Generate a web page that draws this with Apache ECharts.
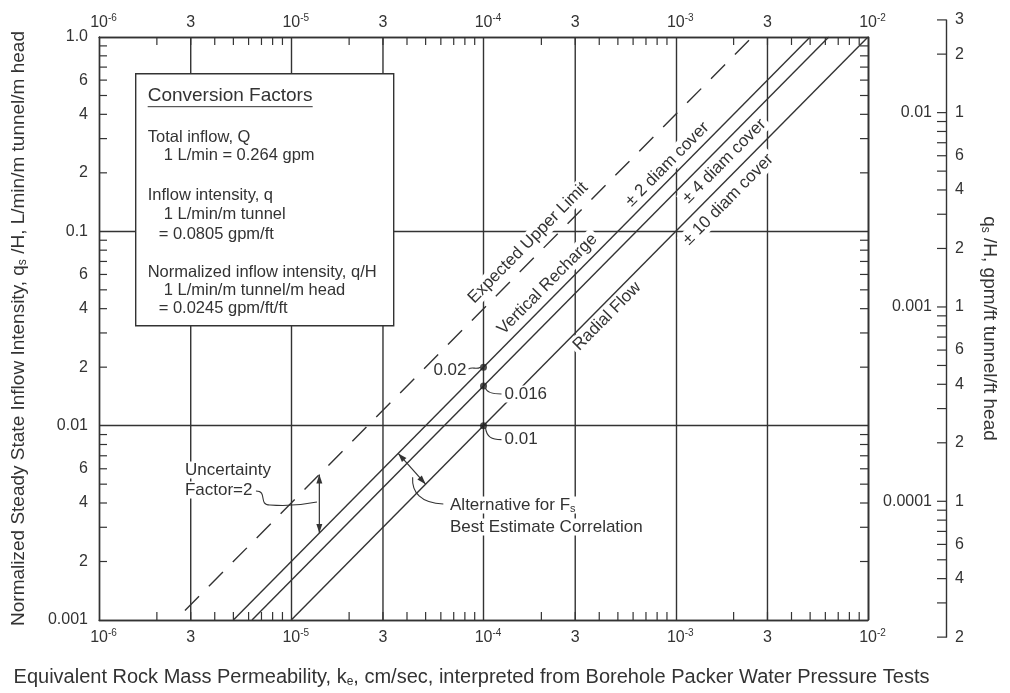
<!DOCTYPE html>
<html>
<head>
<meta charset="utf-8">
<script src="https://cdn.jsdelivr.net/npm/echarts@6/dist/echarts.min.js"></script>
<style>
  html, body { margin: 0; padding: 0; background: #fff; }
  #chart { width: 1010px; height: 693px; }
</style>
</head>
<body>
<div id="chart"></div>
<script>
// ---- Axis extents: permeability k (cm/s) and normalized inflow q/H (L/min/m tunnel/m head)
const kMin = 1e-6, kMax = 1e-2;
const qMin = 0.001, qMax = 1;

// ---- Correlation lines, end points [k, q/H]
const upperLimit       = [[2.8e-6, 0.00112], [2.5e-3, 1]];
const verticalRecharge = [[5e-6, 0.001], [5e-3, 1]];
const bestEstimate     = [[6.25e-6, 0.001], [6.25e-3, 1]];
const radialFlow       = [[1e-5, 0.001], [1e-2, 1]];

// ---- Reference points read at k = 1e-4
const markedK = [1e-4, 1e-4, 1e-4];
const markedQ = [0.02, 0.016, 0.01];
const markedText = ['0.02', '0.016', '0.01'];

// ---- Double arrows [k, q/H]
const uncertaintyArrow = [[1.4e-5, 0.0056], [1.4e-5, 0.0028]];
const alternativeArrow = [[3.6e-5, 0.0072], [5.0e-5, 0.005]];

// ---- Line captions: text, k of the anchor point, q/H per unit k of the line
const lineLabelText  = ['Expected Upper Limit', 'Vertical Recharge', '\u00b1 2 diam cover', 'Radial Flow', '\u00b1 4 diam cover', '\u00b1 10 diam cover'];
const lineLabelK     = [1.93e-4, 2.4e-4, 1.0e-3, 4.0e-4, 1.6e-3, 1.65e-3];
const lineLabelRatio = [400, 200, 200, 100, 160, 100];

// ---- Tick labels
const xThirds = [3e-6, 3e-5, 3e-4, 3e-3];
const xThirdLabels = ['3', '3', '3', '3'];
const yMinorLabelValues = [0.6, 0.4, 0.2, 0.06, 0.04, 0.02, 0.006, 0.004, 0.002];
const yMinorLabels = ['6', '4', '2', '6', '4', '2', '6', '4', '2'];
const minorMantissas = [2, 3, 4, 5, 6, 7, 8, 9];

// ---- Secondary axis, gpm/ft tunnel/ft head
const gpmFactor = 0.0245;
const rightMin = 2e-5, rightMax = 0.03;
const rightLabelValues = [0.03, 0.02, 0.01, 0.006, 0.004, 0.002, 0.001, 0.0006, 0.0004, 0.0002, 0.0001, 0.00006, 0.00004, 0.00002];
const rightLabels = ['3', '2', '1', '6', '4', '2', '1', '6', '4', '2', '1', '6', '4', '2'];

// ---- Conversion factor notes
const noteTitle = 'Conversion Factors';
const noteLines = [
  ['Total inflow, Q', 0], ['1 L/min = 0.264 gpm', 1],
  ['Inflow intensity, q', 0], ['1 L/min/m tunnel', 1], ['= 0.0805 gpm/ft', 2],
  ['Normalized inflow intensity, q/H', 0], ['1 L/min/m tunnel/m head', 1], ['= 0.0245 gpm/ft/ft', 2]
];

// ---------------------------------------------------------------------------
const chart = echarts.init(document.getElementById('chart'), null, { renderer: 'canvas' });
const INK = '#333';
const FONT = '"Liberation Sans", Arial, Helvetica, sans-serif';
const GRID = { left: 99, top: 37, width: 769, height: 583 };
const LW = 1.4;

// the gpm axis shares the decade length of the main axis
const decadePx = GRID.height / Math.log10(qMax / qMin);
const rightTop = GRID.top - Math.log10(rightMax / gpmFactor / qMax) * decadePx;
const rightBottom = GRID.top + GRID.height + Math.log10(qMin * gpmFactor / rightMin) * decadePx;

const xMinor = [], yMinor = [];
[1e-6, 1e-5, 1e-4, 1e-3].forEach(d => minorMantissas.forEach(m => xMinor.push(m * d)));
[0.001, 0.01, 0.1].forEach(d => minorMantissas.forEach(m => yMinor.push(m * d)));

// tick direction: 0 bottom, 1 top, 2 left, 3 right
const tickData = [];
xMinor.forEach(k => tickData.push([k, qMin, 0], [k, qMax, 1]));
yMinor.forEach(q => tickData.push([kMin, q, 2], [kMax, q, 3]));

const rightTicks = [];
[-2, -3, -4, -5].forEach(e => [1, 2, 3, 4, 5, 6, 7, 8, 9].forEach(m => {
  const v = m * Math.pow(10, e);
  if (v >= rightMin * 0.999 && v <= rightMax * 1.001) rightTicks.push(v);
}));

// minor tick labels: 0 below, 1 above, 2 left
const minorLabelData = [], minorLabelText = [];
xThirds.forEach((k, i) => {
  minorLabelData.push([k, qMin, 0]); minorLabelText.push(xThirdLabels[i]);
  minorLabelData.push([k, qMax, 1]); minorLabelText.push(xThirdLabels[i]);
});
yMinorLabelValues.forEach((q, i) => { minorLabelData.push([kMin, q, 2]); minorLabelText.push(yMinorLabels[i]); });

const lineStyle = { color: INK, width: LW };
const tickFont = { fontSize: 16, fontFamily: FONT, color: INK };
const powRich = {
  b: { fontSize: 16, fontFamily: FONT, color: INK, padding: [0, 0, 0, 9], lineHeight: 20 },
  s: { fontSize: 10, fontFamily: FONT, color: INK, verticalAlign: 'top', lineHeight: 10 }
};
const powLabel = v => '{b|10}{s|' + Math.round(Math.log10(v)) + '}';
const subRich = { s: { fontSize: 12, fontFamily: FONT, color: INK, padding: [9, 0, 0, 0], lineHeight: 12 } };

function textEl(x, y, text, align, extra) {
  return Object.assign({
    type: 'text', x: x, y: y,
    style: { text: text, font: '17px ' + FONT, fill: INK, align: align || 'left', verticalAlign: 'middle' }
  }, extra || {});
}

function arrowHead(tip, from) {
  const dx = tip[0] - from[0], dy = tip[1] - from[1];
  const len = Math.hypot(dx, dy), ux = dx / len, uy = dy / len;
  const L = 9, W = 3;
  const bx = tip[0] - ux * L, by = tip[1] - uy * L;
  return {
    type: 'polygon',
    shape: { points: [tip, [bx - uy * W, by + ux * W], [bx + uy * W, by - ux * W]] },
    style: { fill: INK }
  };
}

function bez(o, a, c1, c2, b) {
  return 'M' + (o[0] + a[0]) + ' ' + (o[1] + a[1]) +
    ' C' + (o[0] + c1[0]) + ' ' + (o[1] + c1[1]) + ' ' + (o[0] + c2[0]) + ' ' + (o[1] + c2[1]) +
    ' ' + (o[0] + b[0]) + ' ' + (o[1] + b[1]);
}
const leaderStyle = { stroke: INK, lineWidth: 1.1, fill: null };

const option = {
  backgroundColor: '#fff',
  animation: false,
  grid: [
    Object.assign({ outerBoundsMode: 'none', containLabel: false }, GRID),
    { left: 946, top: rightTop, width: 10, height: rightBottom - rightTop, outerBoundsMode: 'none', containLabel: false }
  ],
  xAxis: [
    {
      type: 'log', gridIndex: 0, min: kMin, max: kMax, position: 'bottom',
      axisLine: { show: true, lineStyle: lineStyle }, axisTick: { show: false },
      splitLine: { show: true, lineStyle: lineStyle },
      axisLabel: { interval: 0, margin: 8, formatter: powLabel, rich: powRich },
      name: 'Equivalent Rock Mass Permeability, k{s|e}, cm/sec, interpreted from Borehole Packer Water Pressure Tests',
      nameLocation: 'middle', nameGap: 47,
      nameTextStyle: { fontSize: 20, fontFamily: FONT, color: INK, padding: [0, 24, 0, 0], rich: subRich }
    },
    {
      type: 'log', gridIndex: 0, min: kMin, max: kMax, position: 'top',
      axisLine: { show: true, lineStyle: lineStyle }, axisTick: { show: false }, splitLine: { show: false },
      axisLabel: { interval: 0, margin: 4, formatter: powLabel, rich: powRich }
    },
    { type: 'value', gridIndex: 1, min: 0, max: 1, show: false }
  ],
  yAxis: [
    {
      type: 'log', gridIndex: 0, min: qMin, max: qMax, position: 'left',
      axisLine: { show: true, lineStyle: lineStyle }, axisTick: { show: false },
      splitLine: { show: true, lineStyle: lineStyle },
      axisLabel: Object.assign({ interval: 0, margin: 11, formatter: v => {
        const e = Math.round(Math.log10(v));
        return e === 0 ? '1.0' : v.toFixed(-e);
      } }, tickFont),
      name: 'Normalized Steady State Inflow Intensity, q{s|s} /H, L/min/m tunnel/m head',
      nameLocation: 'middle', nameRotate: 90, nameGap: 71,
      nameTextStyle: { fontSize: 19, fontFamily: FONT, color: INK, rich: subRich }
    },
    {
      type: 'log', gridIndex: 0, min: qMin, max: qMax, position: 'right',
      axisLine: { show: true, lineStyle: lineStyle }, axisTick: { show: false },
      splitLine: { show: false }, axisLabel: { show: false },
      name: 'q{s|s} /H, gpm/ft tunnel/ft head',
      nameLocation: 'middle', nameRotate: -90, nameGap: 112,
      nameTextStyle: { fontSize: 19, fontFamily: FONT, color: INK, rich: subRich }
    },
    {
      type: 'log', gridIndex: 1, min: rightMin, max: rightMax, position: 'left',
      axisLine: { show: true, lineStyle: lineStyle }, axisTick: { show: false }, splitLine: { show: false },
      axisLabel: Object.assign({ interval: 0, margin: 14, showMinLabel: false, showMaxLabel: false, formatter: v => {
        const l = Math.log10(v), e = Math.round(l);
        return Math.abs(l - e) < 1e-6 ? Math.pow(10, e).toFixed(-e) : '';
      } }, tickFont)
    }
  ],
  series: [
    // grid lines at 3 x 10^n
    {
      type: 'custom', xAxisIndex: 0, yAxisIndex: 0, silent: true, z: 1,
      data: xThirds.map(k => [k, qMin]),
      renderItem: (params, api) => {
        const a = api.coord([api.value(0), qMin]), b = api.coord([api.value(0), qMax]);
        return { type: 'line', shape: { x1: a[0], y1: a[1], x2: b[0], y2: b[1] }, style: { stroke: INK, lineWidth: LW } };
      }
    },
    // minor ticks on the four sides of the plot
    {
      type: 'custom', xAxisIndex: 0, yAxisIndex: 0, silent: true, z: 1,
      data: tickData,
      renderItem: (params, api) => {
        const p = api.coord([api.value(0), api.value(1)]);
        const d = [[0, -8], [0, 8], [8, 0], [-8, 0]][api.value(2)];
        return { type: 'line', shape: { x1: p[0], y1: p[1], x2: p[0] + d[0], y2: p[1] + d[1] }, style: { stroke: INK, lineWidth: 1.2 } };
      }
    },
    // minor tick labels
    {
      type: 'custom', xAxisIndex: 0, yAxisIndex: 0, silent: true, z: 1,
      data: minorLabelData,
      renderItem: (params, api) => {
        const p = api.coord([api.value(0), api.value(1)]);
        const kind = api.value(2);
        const t = minorLabelText[params.dataIndex];
        const st = { text: t, font: '16px ' + FONT, fill: INK };
        if (kind === 0) return { type: 'text', x: p[0], y: p[1] + 18, style: Object.assign(st, { align: 'center', verticalAlign: 'middle' }) };
        if (kind === 1) return { type: 'text', x: p[0], y: p[1] - 14, style: Object.assign(st, { align: 'center', verticalAlign: 'middle' }) };
        return { type: 'text', x: p[0] - 11, y: p[1], style: Object.assign(st, { align: 'right', verticalAlign: 'middle' }) };
      }
    },
    // correlation lines
    {
      type: 'line', name: 'Expected Upper Limit', xAxisIndex: 0, yAxisIndex: 0, data: upperLimit,
      showSymbol: false, silent: true, z: 3, lineStyle: { color: INK, width: LW, type: [20, 14] }
    },
    {
      type: 'line', name: 'Vertical Recharge', xAxisIndex: 0, yAxisIndex: 0, data: verticalRecharge,
      showSymbol: false, silent: true, z: 3, lineStyle: { color: INK, width: LW }
    },
    {
      type: 'line', name: 'Best Estimate', xAxisIndex: 0, yAxisIndex: 0, data: bestEstimate,
      showSymbol: false, silent: true, z: 3, lineStyle: { color: INK, width: LW }
    },
    {
      type: 'line', name: 'Radial Flow', xAxisIndex: 0, yAxisIndex: 0, data: radialFlow,
      showSymbol: false, silent: true, z: 3, lineStyle: { color: INK, width: LW }
    },
    // reference points
    {
      type: 'scatter', xAxisIndex: 0, yAxisIndex: 0, silent: true, z: 5,
      data: markedK.map((k, i) => [k, markedQ[i]]),
      symbolSize: 7, itemStyle: { color: '#222' }
    },
    // captions along the lines
    {
      type: 'custom', xAxisIndex: 0, yAxisIndex: 0, silent: true, z: 6,
      data: lineLabelK.map((k, i) => [k, k * lineLabelRatio[i]]),
      renderItem: (params, api) => {
        const offsets = [14.6, 13, 12, -11, -13, -15];
        const k = api.value(0), q = api.value(1);
        const p = api.coord([k, q]), p2 = api.coord([k * 10, q * 10]);
        const dx = p2[0] - p[0], dy = p2[1] - p[1], len = Math.hypot(dx, dy);
        const ux = dx / len, uy = dy / len;
        const off = offsets[params.dataIndex];
        const x = p[0] + uy * off, y = p[1] - ux * off;
        return {
          type: 'text', x: x, y: y, rotation: Math.atan2(-dy, dx),
          style: {
            text: lineLabelText[params.dataIndex], font: '17px ' + FONT, fill: INK,
            align: 'center', verticalAlign: 'middle', backgroundColor: '#fff', padding: [1, 3]
          }
        };
      }
    },
    // values at the reference points
    {
      type: 'custom', xAxisIndex: 0, yAxisIndex: 0, silent: true, z: 6,
      data: markedK.map((k, i) => [k, markedQ[i]]),
      renderItem: (params, api) => {
        const p = api.coord([api.value(0), api.value(1)]);
        const i = params.dataIndex, t = markedText[i];
        if (i === 0) {
          return { type: 'group', children: [
            { type: 'path', shape: { pathData: bez(p, [-15, 2], [-11, -1], [-8, 3], [-3, 0]) }, style: leaderStyle },
            textEl(p[0] - 16, p[1] + 3, t, 'right', { style: { text: t, font: '17px ' + FONT, fill: INK, align: 'right', verticalAlign: 'middle', backgroundColor: '#fff', padding: [0, 1] } })
          ] };
        }
        const dy = i === 1 ? 8 : 14;
        return { type: 'group', children: [
          { type: 'path', shape: { pathData: bez(p, [2, 2], [3, dy * 0.8], [8, dy], [18, dy]) }, style: leaderStyle },
          textEl(p[0] + 20, p[1] + dy, t, 'left', { style: { text: t, font: '17px ' + FONT, fill: INK, align: 'left', verticalAlign: 'middle', backgroundColor: '#fff', padding: [0, 1] } })
        ] };
      }
    },
    // double arrows
    {
      type: 'custom', xAxisIndex: 0, yAxisIndex: 0, silent: true, z: 6,
      data: [uncertaintyArrow[0].concat(uncertaintyArrow[1]), alternativeArrow[0].concat(alternativeArrow[1])],
      renderItem: (params, api) => {
        const a = api.coord([api.value(0), api.value(1)]);
        const b = api.coord([api.value(2), api.value(3)]);
        return { type: 'group', children: [
          { type: 'line', shape: { x1: a[0], y1: a[1], x2: b[0], y2: b[1] }, style: { stroke: INK, lineWidth: 1.2 } },
          arrowHead(a, b), arrowHead(b, a)
        ] };
      }
    },
    // notes tied to the arrows
    {
      type: 'custom', xAxisIndex: 0, yAxisIndex: 0, silent: true, z: 6,
      data: [uncertaintyArrow[0], alternativeArrow[1]],
      renderItem: (params, api) => {
        const p = api.coord([api.value(0), api.value(1)]);
        const bg = { backgroundColor: '#fff', padding: [0, 2] };
        if (params.dataIndex === 0) {
          return { type: 'group', children: [
            { type: 'path', shape: { pathData: bez(p, [-63.4, 16.4], [-51.4, 16.4], [-61.4, 30.4], [-49.4, 30.4]) }, style: leaderStyle },
            { type: 'path', shape: { pathData: bez(p, [-49.4, 30.4], [-35, 31.5], [-15, 30], [-2.4, 27.4]) }, style: leaderStyle },
            { type: 'text', x: p[0] - 136.4, y: p[1] - 4.6, style: Object.assign({ text: 'Uncertainty', font: '17px ' + FONT, fill: INK, align: 'left', verticalAlign: 'middle' }, bg) },
            { type: 'text', x: p[0] - 136.4, y: p[1] + 15.4, style: Object.assign({ text: 'Factor=2', font: '17px ' + FONT, fill: INK, align: 'left', verticalAlign: 'middle' }, bg) }
          ] };
        }
        return { type: 'group', children: [
          { type: 'path', shape: { pathData: bez(p, [17.7, 19.8], [-5, 19], [-14, 8], [-13, -7]) }, style: leaderStyle },
          { type: 'text', x: p[0] + 22.4, y: p[1] + 20.8, style: Object.assign({
              text: 'Alternative for F{s|s}', font: '17px ' + FONT, fill: INK, align: 'left', verticalAlign: 'middle',
              rich: { s: { fontSize: 11, fontFamily: FONT, fill: INK, padding: [8, 0, 0, 0], lineHeight: 11 } } }, bg) },
          { type: 'text', x: p[0] + 22.4, y: p[1] + 42.8, style: Object.assign({ text: 'Best Estimate Correlation', font: '17px ' + FONT, fill: INK, align: 'left', verticalAlign: 'middle' }, bg) }
        ] };
      }
    },
    // gpm axis ticks and mantissa labels
    {
      type: 'custom', xAxisIndex: 2, yAxisIndex: 2, silent: true, z: 2,
      data: rightTicks.map(v => [0, v]),
      renderItem: (params, api) => {
        const p = api.coord([0, api.value(1)]);
        return { type: 'line', shape: { x1: p[0] - 9, y1: p[1], x2: p[0], y2: p[1] }, style: { stroke: INK, lineWidth: 1.2 } };
      }
    },
    {
      type: 'custom', xAxisIndex: 2, yAxisIndex: 2, silent: true, z: 2,
      data: rightLabelValues.map(v => [0, v]),
      renderItem: (params, api) => {
        const p = api.coord([0, api.value(1)]);
        return { type: 'text', x: p[0] + 9, y: p[1], style: { text: rightLabels[params.dataIndex], font: '16px ' + FONT, fill: INK, align: 'left', verticalAlign: 'middle' } };
      }
    }
  ],
  graphic: [
    {
      type: 'group', left: 135, top: 73, z: 100,
      children: [
        { type: 'rect', shape: { x: 0, y: 0, width: 258, height: 252 }, style: { fill: '#fff', stroke: INK, lineWidth: LW }, z: 100 },
        { type: 'text', x: 12, y: 22, z: 101, style: { text: noteTitle, font: '19px ' + FONT, fill: INK, verticalAlign: 'middle' } },
        { type: 'line', z: 101, shape: { x1: 12, y1: 33, x2: 177, y2: 33 }, style: { stroke: INK, lineWidth: 1 } }
      ].concat(noteLines.map((ln, i) => {
        const ys = [64, 82, 122, 141, 161, 199, 217, 235];
        const xs = [12, 28, 23];
        return { type: 'text', x: xs[ln[1]], y: ys[i], z: 101, style: { text: ln[0], font: '16.5px ' + FONT, fill: INK, verticalAlign: 'middle' } };
      }))
    }
  ]
};

chart.setOption(option);
</script>
</body>
</html>
